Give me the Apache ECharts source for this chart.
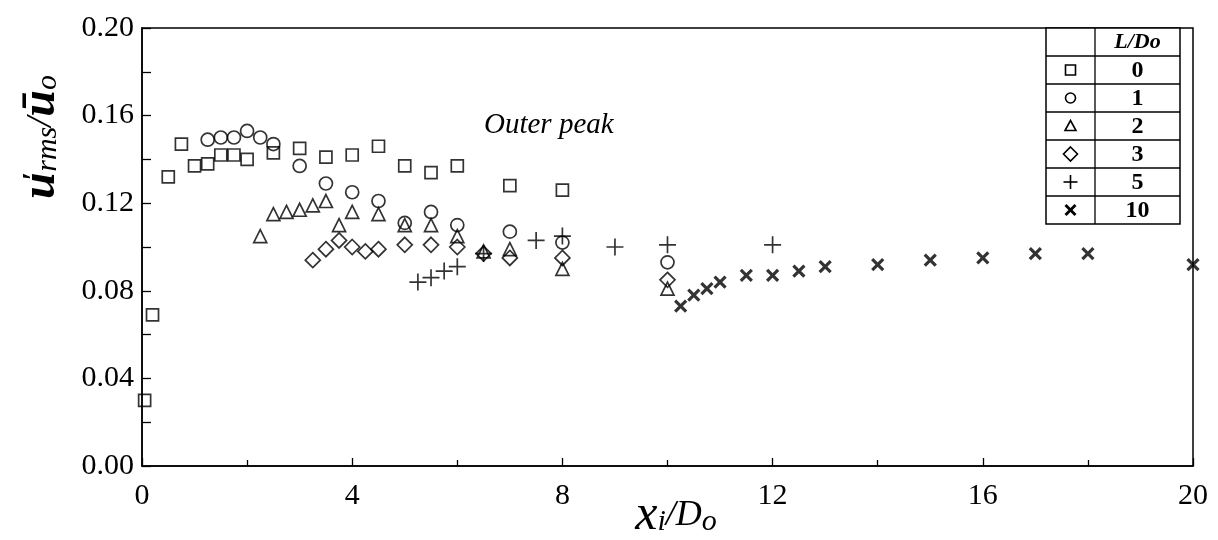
<!DOCTYPE html>
<html>
<head>
<meta charset="utf-8">
<title>Outer peak</title>
<script src="https://cdn.jsdelivr.net/npm/echarts@6/dist/echarts.min.js"></script>
<style>
    html, body { margin: 0; padding: 0; background: #fff; }
    #main { width: 1218px; height: 540px; }
</style>
</head>
<body>
<div id="main"></div>
<script>
// L/Do = 0 (squares)
const xSquare = [0.05, 0.2, 0.5, 0.75, 1.0, 1.25, 1.5, 1.75, 2.0, 2.5, 3.0, 3.5, 4.0, 4.5, 5.0, 5.5, 6.0, 7.0, 8.0];
const ySquare = [0.030, 0.069, 0.132, 0.147, 0.137, 0.138, 0.142, 0.142, 0.140, 0.143, 0.145, 0.141, 0.142, 0.146, 0.137, 0.134, 0.137, 0.128, 0.126];
// L/Do = 1 (circles)
const xCircle = [1.25, 1.5, 1.75, 2.0, 2.25, 2.5, 3.0, 3.5, 4.0, 4.5, 5.0, 5.5, 6.0, 7.0, 8.0, 10.0];
const yCircle = [0.149, 0.150, 0.150, 0.153, 0.150, 0.147, 0.137, 0.129, 0.125, 0.121, 0.111, 0.116, 0.110, 0.107, 0.102, 0.093];
// L/Do = 2 (triangles)
const xTriangle = [2.25, 2.5, 2.75, 3.0, 3.25, 3.5, 3.75, 4.0, 4.5, 5.0, 5.5, 6.0, 6.5, 7.0, 8.0, 10.0];
const yTriangle = [0.105, 0.115, 0.116, 0.117, 0.119, 0.121, 0.110, 0.116, 0.115, 0.110, 0.110, 0.105, 0.098, 0.099, 0.090, 0.081];
// L/Do = 3 (diamonds)
const xDiamond = [3.25, 3.5, 3.75, 4.0, 4.25, 4.5, 5.0, 5.5, 6.0, 6.5, 7.0, 8.0, 10.0];
const yDiamond = [0.094, 0.099, 0.103, 0.100, 0.098, 0.099, 0.101, 0.101, 0.100, 0.097, 0.095, 0.095, 0.085];
// L/Do = 5 (plus)
const xPlus = [5.25, 5.5, 5.75, 6.0, 6.5, 7.5, 8.0, 9.0, 10.0, 12.0];
const yPlus = [0.084, 0.086, 0.089, 0.091, 0.097, 0.103, 0.105, 0.100, 0.101, 0.101];
// L/Do = 10 (cross)
const xCross = [10.25, 10.5, 10.75, 11.0, 11.5, 12.0, 12.5, 13.0, 14.0, 15.0, 16.0, 17.0, 18.0, 20.0];
const yCross = [0.073, 0.078, 0.081, 0.084, 0.087, 0.087, 0.089, 0.091, 0.092, 0.094, 0.095, 0.097, 0.097, 0.092];

const legendLabels = ['0', '1', '2', '3', '5', '10'];
const xTicks = [0, 4, 8, 12, 16, 20];
const yTicks = [0.00, 0.04, 0.08, 0.12, 0.16, 0.20];

const SERIF = '"Liberation Serif", "DejaVu Serif", serif';
const PLUS_PATH = 'path://M0,5L10,5M5,0L5,10';
const CROSS_PATH = 'path://M0,0L10,10M10,0L0,10';

const markers = [
    { symbol: 'rect', size: 12, width: 1.7 },
    { symbol: 'circle', size: 13, width: 1.7 },
    { symbol: 'triangle', size: 13, width: 1.7 },
    { symbol: 'diamond', size: 15, width: 1.7 },
    { symbol: PLUS_PATH, size: 17, width: 1.7 },
    { symbol: CROSS_PATH, size: 11, width: 3.2 }
];

function zip (xs, ys) {
    return xs.map((x, i) => [x, ys[i]]);
}

const seriesData = [
    zip(xSquare, ySquare),
    zip(xCircle, yCircle),
    zip(xTriangle, yTriangle),
    zip(xDiamond, yDiamond),
    zip(xPlus, yPlus),
    zip(xCross, yCross)
];

// legend table in the top right corner
const tbl = { left: 1046, mid: 1095, right: 1180, top: 28, head: 28, row: 28 };
const tblBottom = tbl.top + tbl.head + tbl.row * legendLabels.length;
const ink = { stroke: '#000', fill: 'none', lineWidth: 1.6 };
const graphics = [];

graphics.push({
    type: 'rect',
    shape: { x: tbl.left, y: tbl.top, width: tbl.right - tbl.left, height: tblBottom - tbl.top },
    style: { fill: '#fff', stroke: '#000', lineWidth: 1.5 },
    z: 10
});
graphics.push({
    type: 'line',
    shape: { x1: tbl.mid, y1: tbl.top, x2: tbl.mid, y2: tblBottom },
    style: { stroke: '#000', lineWidth: 1.3 },
    z: 11
});
graphics.push({
    type: 'text',
    x: (tbl.mid + tbl.right) / 2,
    y: tbl.top + tbl.head / 2,
    style: { text: 'L/Do', font: 'italic bold 22px ' + SERIF, fill: '#000', align: 'center', verticalAlign: 'middle' },
    z: 12
});

function twoLines (a, b, width) {
    const st = { stroke: '#000', lineWidth: width };
    return {
        type: 'group',
        children: [
            { type: 'line', shape: { x1: a[0], y1: a[1], x2: a[2], y2: a[3] }, style: st, z: 12 },
            { type: 'line', shape: { x1: b[0], y1: b[1], x2: b[2], y2: b[3] }, style: st, z: 12 }
        ]
    };
}

function legendIcon (i, cx, cy) {
    if (i === 0) return { type: 'rect', z: 12, shape: { x: cx - 5, y: cy - 5, width: 10, height: 10 }, style: ink };
    if (i === 1) return { type: 'circle', z: 12, shape: { cx: cx, cy: cy, r: 5 }, style: ink };
    if (i === 2) return { type: 'polygon', z: 12, shape: { points: [[cx, cy - 5.5], [cx + 5.5, cy + 4.5], [cx - 5.5, cy + 4.5]] }, style: ink };
    if (i === 3) return { type: 'polygon', z: 12, shape: { points: [[cx, cy - 7], [cx + 7, cy], [cx, cy + 7], [cx - 7, cy]] }, style: ink };
    if (i === 4) return twoLines([cx - 7, cy, cx + 7, cy], [cx, cy - 7, cx, cy + 7], 1.6);
    return twoLines([cx - 5, cy - 5, cx + 5, cy + 5], [cx + 5, cy - 5, cx - 5, cy + 5], 2.8);
}

legendLabels.forEach((lab, i) => {
    const y0 = tbl.top + tbl.head + tbl.row * i;
    const cy = y0 + tbl.row / 2;
    graphics.push({
        type: 'line',
        shape: { x1: tbl.left, y1: y0, x2: tbl.right, y2: y0 },
        style: { stroke: '#000', lineWidth: 1.3 },
        z: 11
    });
    graphics.push(legendIcon(i, (tbl.left + tbl.mid) / 2, cy));
    graphics.push({
        type: 'text',
        x: (tbl.mid + tbl.right) / 2,
        y: cy + 1,
        style: { text: lab, font: 'bold 24px ' + SERIF, fill: '#000', align: 'center', verticalAlign: 'middle' },
        z: 12
    });
});

graphics.push({
    type: 'text',
    x: 484,
    y: 125,
    style: { text: 'Outer peak', font: 'italic 29px ' + SERIF, fill: '#000', verticalAlign: 'middle' }
});

// axis titles
const titleRich = {
    big: { fontFamily: SERIF, fontStyle: 'italic', fontWeight: 'bold', fontSize: 48, fill: '#000' },
    bigx: { fontFamily: SERIF, fontStyle: 'italic', fontSize: 50, fill: '#000' },
    p: { fontFamily: SERIF, fontWeight: 'bold', fontSize: 30, fill: '#000', padding: [0, 0, 16, -8] },
    s: { fontFamily: SERIF, fontStyle: 'italic', fontSize: 30, fill: '#000', padding: [12, 0, 0, 0] },
    n: { fontFamily: SERIF, fontStyle: 'italic', fontSize: 36, fill: '#000' }
};
graphics.push({
    type: 'text',
    x: 42,
    y: 137,
    rotation: Math.PI / 2,
    style: {
        text: '{big|u}{p|′}{s|rms}{n|/}{big|ū}{s|o}',
        rich: titleRich,
        align: 'center',
        verticalAlign: 'middle'
    }
});
graphics.push({
    type: 'text',
    x: 676,
    y: 516,
    style: {
        text: '{bigx|x}{s|i}{n|/D}{s|o}',
        rich: titleRich,
        align: 'center',
        verticalAlign: 'middle'
    }
});

let myChart = echarts.init(document.getElementById('main'));

const series = seriesData.map((data, i) => ({
    name: legendLabels[i],
    type: 'scatter',
    data: data,
    symbol: markers[i].symbol,
    symbolSize: markers[i].size,
    clip: false,
    itemStyle: {
        color: 'rgba(0,0,0,0)',
        borderColor: '#000',
        borderWidth: markers[i].width
    },
    emphasis: { disabled: true }
}));

myChart.setOption({
    animation: false,
    backgroundColor: '#fff',
    grid: {
        left: 142,
        right: 25,
        top: 28,
        bottom: 74,
        containLabel: false,
        outerBoundsMode: 'none',
        show: true,
        borderColor: '#000',
        borderWidth: 1.5
    },
    xAxis: {
        type: 'value',
        min: 0,
        max: 20,
        interval: 4,
        axisLine: { lineStyle: { color: '#000', width: 1.5 } },
        axisTick: { inside: true, length: 8, lineStyle: { color: '#000', width: 1.3 } },
        minorTick: { show: true, splitNumber: 2, length: 6, lineStyle: { color: '#000', width: 1.3 } },
        splitLine: { show: false },
        axisLabel: {
            margin: 15,
            fontFamily: SERIF,
            fontSize: 30,
            color: '#000',
            formatter: (v) => xTicks.indexOf(v) >= 0 ? String(v) : ''
        }
    },
    yAxis: {
        type: 'value',
        min: 0,
        max: 0.2,
        interval: 0.04,
        axisLine: { lineStyle: { color: '#000', width: 1.5 } },
        axisTick: { inside: true, length: 9, lineStyle: { color: '#000', width: 1.3 } },
        minorTick: { show: true, splitNumber: 2, length: 9, lineStyle: { color: '#000', width: 1.3 } },
        splitLine: { show: false },
        axisLabel: {
            margin: 8,
            fontFamily: SERIF,
            fontSize: 30,
            color: '#000',
            formatter: (v) => {
                const hit = yTicks.find((t) => Math.abs(t - v) < 1e-9);
                return hit === undefined ? '' : hit.toFixed(2);
            }
        }
    },
    graphic: graphics,
    series: series
});
</script>
</body>
</html>
